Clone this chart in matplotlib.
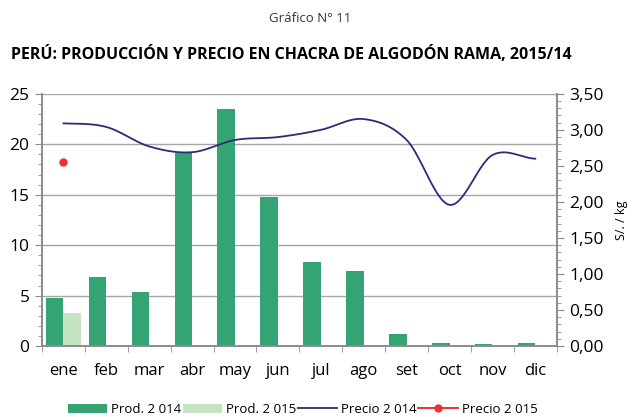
import numpy as np
import matplotlib.pyplot as plt
from matplotlib.ticker import MultipleLocator, FuncFormatter

meses = ['ene', 'feb', 'mar', 'abr', 'may', 'jun', 'jul', 'ago', 'set', 'oct', 'nov', 'dic']
prod_2014 = [4.8, 6.8, 5.4, 19.1, 23.5, 14.8, 8.3, 7.4, 1.2, 0.35, 0.25, 0.35]
prod_2015 = [3.3]
precio_2014 = [3.09, 3.04, 2.77, 2.69, 2.86, 2.90, 3.00, 3.15, 2.86, 1.96, 2.65, 2.60]
precio_2015 = [2.56]

verde = '#34a474'
verde_claro = '#c4e3c0'
azul = '#2e2a7a'
rojo = '#ee3030'
gris = '#8c8c8c'

plt.rcParams['font.family'] = ['Open Sans', 'DejaVu Sans']


def suavizar(y, n=30):
    # curva tipo Catmull-Rom entre los puntos mensuales
    y = np.asarray(y, dtype=float)
    p = np.concatenate([[y[0]], y, [y[-1]]])
    xs, ys = [], []
    for i in range(len(y) - 1):
        p0, p1, p2, p3 = p[i], p[i + 1], p[i + 2], p[i + 3]
        t = np.linspace(0, 1, n, endpoint=False)
        yy = 0.5 * ((2 * p1) + (-p0 + p2) * t + (2 * p0 - 5 * p1 + 4 * p2 - p3) * t ** 2
                    + (-p0 + 3 * p1 - 3 * p2 + p3) * t ** 3)
        xs.append(i + t)
        ys.append(yy)
    xs.append([len(y) - 1])
    ys.append([y[-1]])
    return np.concatenate(xs), np.concatenate(ys)


fig = plt.figure(figsize=(6.37, 4.17), dpi=100)
ax = fig.add_axes([0.066, 0.170, 0.808, 0.605])
ax2 = ax.twinx()

x = np.arange(len(meses))
w = 0.41
ax.bar(x - w / 2, prod_2014, w, color=verde, label='Prod. 2 014', zorder=2)
ax.bar(x[:len(prod_2015)] + w / 2, prod_2015, w, color=verde_claro, label='Prod. 2 015', zorder=2)

xs, ys = suavizar(precio_2014)
ax2.plot(xs, ys, color=azul, lw=1.3, label='Precio 2 014')
ax2.plot(x[:len(precio_2015)], precio_2015, color=rojo, marker='o', ms=5, lw=1.4, label='Precio 2 015')

ax.set_xlim(-0.5, 11.5)
ax.set_ylim(0, 25)
ax2.set_ylim(0, 3.5)
ax.yaxis.set_major_locator(MultipleLocator(5))
ax.yaxis.set_minor_locator(MultipleLocator(1))
ax2.yaxis.set_major_locator(MultipleLocator(0.5))
ax2.yaxis.set_minor_locator(MultipleLocator(0.1))
ax2.yaxis.set_major_formatter(FuncFormatter(lambda v, p: f'{v:.2f}'.replace('.', ',')))

ax.set_xticks(x)
ax.set_xticklabels(meses)
ax.set_xticks(np.arange(-0.5, 12, 1), minor=True)
ax.tick_params(axis='x', which='major', length=0, pad=12, labelsize=12)
ax.tick_params(axis='x', which='minor', length=4, color=gris, direction='out')
ax.tick_params(axis='y', which='major', length=5, color=gris, labelsize=12.5, pad=4)
ax.tick_params(axis='y', which='minor', length=3, color=gris)
ax2.tick_params(axis='y', which='major', length=5, color=gris, labelsize=12.5, pad=4)
ax2.tick_params(axis='y', which='minor', length=3, color=gris)

ax.grid(axis='y', color='#a6a6a6', lw=1, zorder=0)
ax.set_axisbelow(True)
for a in (ax, ax2):
    a.spines['top'].set_visible(False)
    for s in ('left', 'right', 'bottom'):
        a.spines[s].set_color(gris)
        a.spines[s].set_linewidth(1.2)

ax2.set_ylabel('S/. / kg', fontsize=9, labelpad=8)

fig.text(0.487, 0.955, 'Gráfico N° 11', ha='center', va='center', fontsize=9.5, color='#333333')
fig.text(0.018, 0.87, 'PERÚ: PRODUCCIÓN Y PRECIO EN CHACRA DE ALGODÓN RAMA, 2015/14',
         ha='left', va='center', fontsize=11.5, fontweight='bold')

h1, l1 = ax.get_legend_handles_labels()
h2, l2 = ax2.get_legend_handles_labels()
fig.legend(h1 + h2, l1 + l2, loc='center', bbox_to_anchor=(0.475, 0.018), ncol=4, frameon=False,
           fontsize=9.5, handlelength=3, handletextpad=0.3, columnspacing=0.1)

fig.savefig('out.png', dpi=100)
